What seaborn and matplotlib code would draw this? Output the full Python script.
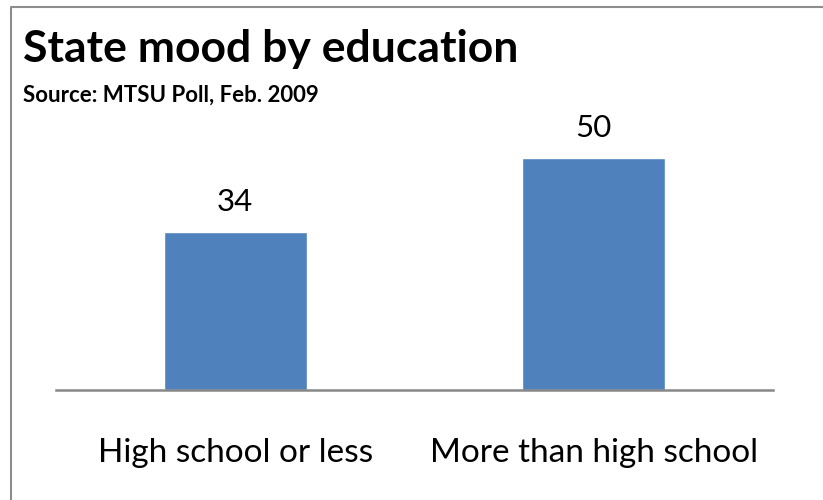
import matplotlib
matplotlib.use("Agg")
import matplotlib.pyplot as plt
import seaborn as sns
import pandas as pd
from matplotlib.lines import Line2D

categories = ["High school or less", "More than high school"]
values = [34, 50]
title = "State mood by education"
subtitle = "Source: MTSU Poll, Feb. 2009"

sns.set_style("white")
plt.rcParams['font.family'] = ['Lato', 'DejaVu Sans']

df = pd.DataFrame({"cat": categories, "val": values})

fig = plt.figure(figsize=(8.23, 5.0), dpi=100)
ax = fig.add_axes([0.068, 0.22, 0.8712, 0.5574])
sns.barplot(data=df, x="cat", y="val", color="#4F81BD", saturation=1, width=0.4, ax=ax)
ax.set_ylim(0, 60)
ax.set_xlim(-0.5, 1.5)
for p, v in zip(ax.patches, values):
    ax.annotate(f"{v}", (p.get_x() + p.get_width() / 2, p.get_height()),
                xytext=(0, 15), textcoords="offset points", ha="center", va="baseline",
                fontsize=22.5, color="black")
ax.set_xlabel("")
ax.set_ylabel("")
ax.set_yticks([])
ax.tick_params(axis="x", length=0, pad=34.5, labelsize=24, labelcolor="black")
for s in ["top", "left", "right"]:
    ax.spines[s].set_visible(False)
ax.spines["bottom"].set_color("#888888")
ax.spines["bottom"].set_linewidth(1.8)

fig.text(23 / 823, 1 - 62 / 500, title, fontsize=32, fontweight="bold", ha="left", va="baseline", color="black")
fig.text(23 / 823, 1 - 102 / 500, subtitle, fontsize=16, fontweight="bold", ha="left", va="baseline", color="black")
fig.add_artist(Line2D([10.5 / 823, 10.5 / 823, 1.0], [0.0, 1 - 7 / 500, 1 - 7 / 500],
                      transform=fig.transFigure, color="#8c8c8c", linewidth=1.5))
fig.savefig("out.png", dpi=100)
